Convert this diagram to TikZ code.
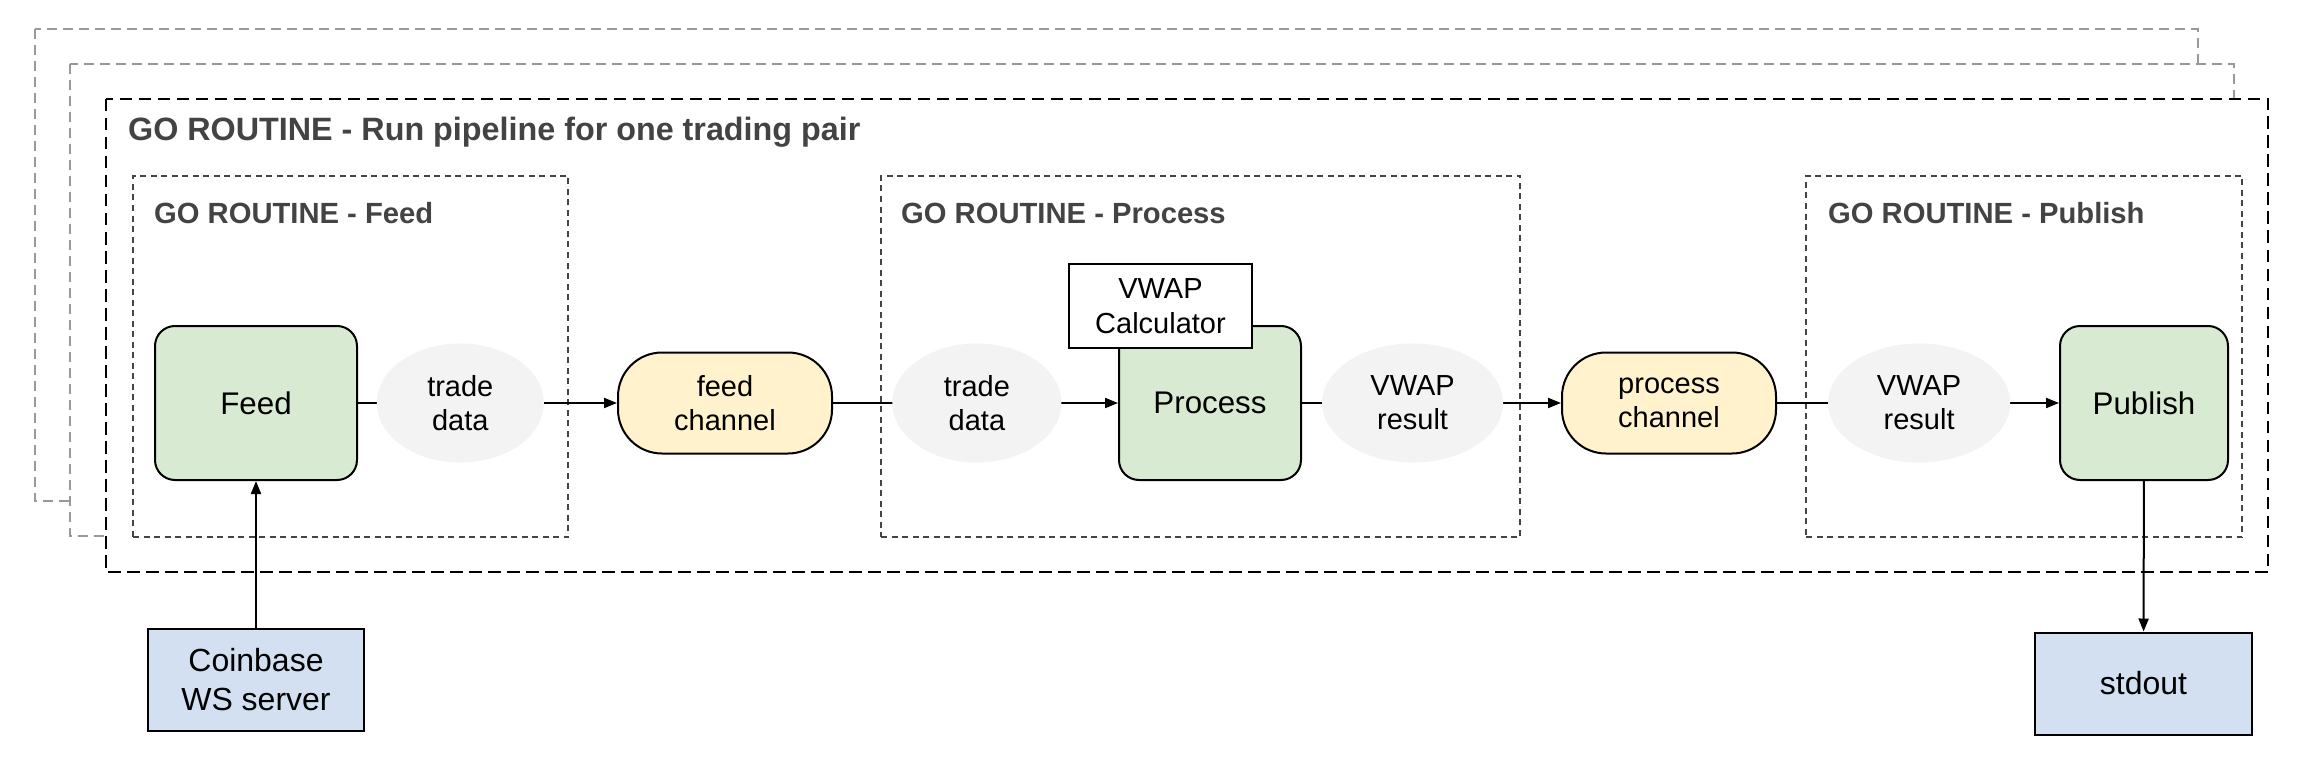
\documentclass[tikz,border=0pt]{standalone}
\usepackage{fontspec}
\setmainfont{Liberation Sans}
\usetikzlibrary{shapes.geometric,arrows.meta}
\definecolor{procgreen}{HTML}{D9EAD3}
\definecolor{chanyellow}{HTML}{FFF2CC}
\definecolor{extblue}{HTML}{D3E0F1}
\definecolor{lblgray}{HTML}{F3F3F3}
\definecolor{titlegray}{HTML}{434343}
\definecolor{stackgray}{HTML}{999999}
\definecolor{routinegray}{HTML}{444444}
\tikzset{
  stackbox/.style={draw=stackgray, fill=white, line width=2pt, dash pattern=on 10pt off 6pt},
  mainbox/.style={draw=black, fill=white, line width=2.5pt, dash pattern=on 12.5pt off 6.5pt},
  routine/.style={draw=routinegray, line width=1.8pt, dash pattern=on 6pt off 4.5pt, inner sep=0pt, minimum height=361pt},
  maintitle/.style={text=titlegray, font=\bfseries\fontsize{32.3}{38}\selectfont, inner sep=0pt, anchor=base west},
  rtitle/.style={text=titlegray, font=\bfseries\fontsize{29.2}{34}\selectfont, inner sep=0pt, anchor=base west},
  proc/.style={draw=black, line width=2pt, rounded corners=20pt, fill=procgreen, minimum height=154pt, inner sep=0pt, align=center, font=\fontsize{31.3}{36}\selectfont},
  chan/.style={draw=black, line width=2pt, rounded corners=44pt, fill=chanyellow, minimum width=214pt, minimum height=101pt, inner sep=0pt, align=center, font=\fontsize{29}{34}\selectfont},
  calcbox/.style={draw=black, line width=2pt, fill=white, minimum width=183pt, minimum height=84pt, inner sep=0pt, align=center, font=\fontsize{29}{35}\selectfont},
  ext/.style={draw=black, line width=2pt, fill=extblue, minimum width=216pt, minimum height=102pt, inner sep=0pt, align=center, font=\fontsize{32}{39}\selectfont},
  lbl/.style={ellipse, fill=lblgray, minimum height=119pt, inner sep=0pt, align=center, font=\fontsize{29}{34}\selectfont},
  conn/.style={line width=2pt, -{Triangle[length=13pt, width=10pt]}},
}
\begin{document}
\begin{tikzpicture}[x=1pt, y=-1pt]
\useasboundingbox (0,0) rectangle (2310,778);
\fill[white] (0,0) rectangle (2310,778);

% stacked go-routine frames
\draw[stackbox] (35,29) rectangle (2198,501);
\draw[stackbox] (70,64) rectangle (2234,536);
\draw[mainbox] (106,99) rectangle (2268,572);
\node[maintitle] (t0) at (128,141) {GO ROUTINE - Run pipeline for one trading pair};

% inner routines
\node[routine, minimum width=435pt] (rfeed) at (350.5,356.5) {};
\node[routine, minimum width=639pt] (rproc) at (1200.5,356.5) {};
\node[routine, minimum width=436pt] (rpub) at (2024,356.5) {};
\node[rtitle] (t1) at (154,223) {GO ROUTINE - Feed};
\node[rtitle] (t2) at (901,223) {GO ROUTINE - Process};
\node[rtitle] (t3) at (1828,223) {GO ROUTINE - Publish};

% main nodes
\node[proc, minimum width=202pt] (feed) at (256,403) {Feed};
\node[proc, minimum width=182pt] (process) at (1210,403) {Process};
\node[proc, minimum width=168pt] (publish) at (2144,403) {Publish};
\node[calcbox] (calc) at (1160.5,306) {VWAP\\Calculator};
\node[chan] (feedch) at (725,403) {feed\\channel};
\node[chan] (procch) at (1669,403) {process\\channel};
\node[ext] (coinbase) at (256,680) {Coinbase\\WS server};
\node[ext, minimum width=217pt] (stdout) at (2143.5,683.5) {stdout};

% connectors
\draw[conn] (coinbase) -- (feed);
\draw[conn] (feed) -- node[lbl, pos=0.395, minimum width=167pt] (td1) {trade\\data} (feedch);
\draw[conn] (feedch) -- node[lbl, pos=0.505, minimum width=169pt] (td2) {trade\\data} (process);
\draw[conn] (process) -- node[lbl, pos=0.427, minimum width=181pt] (vr1) {VWAP\\result} (procch);
\draw[conn] (procch) -- node[lbl, pos=0.504, minimum width=182pt] (vr2) {VWAP\\result} (publish);
\draw[conn] (publish) -- (stdout);
\end{tikzpicture}
\end{document}
